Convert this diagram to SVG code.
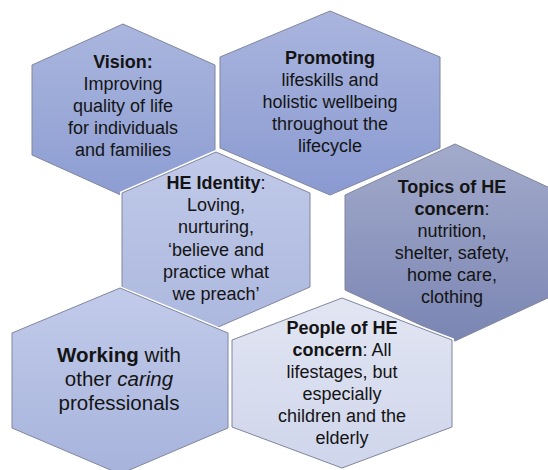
<svg xmlns="http://www.w3.org/2000/svg" width="548" height="470" viewBox="0 0 548 470">
<defs>
<linearGradient id="gVision" x1="0" y1="0" x2="0" y2="1"><stop offset="0" stop-color="#aab6de"/><stop offset="1" stop-color="#8d9dd2"/></linearGradient>
<linearGradient id="gProm" x1="0" y1="0" x2="0" y2="1"><stop offset="0" stop-color="#aab5de"/><stop offset="1" stop-color="#8a9ad1"/></linearGradient>
<linearGradient id="gHE" x1="0" y1="0" x2="0" y2="1"><stop offset="0" stop-color="#c0c9e8"/><stop offset="1" stop-color="#adb8df"/></linearGradient>
<linearGradient id="gTopics" x1="0" y1="0" x2="0" y2="1"><stop offset="0" stop-color="#a3abcb"/><stop offset="1" stop-color="#7a85b3"/></linearGradient>
<linearGradient id="gWork" x1="0" y1="0" x2="0" y2="1"><stop offset="0" stop-color="#c2cbea"/><stop offset="1" stop-color="#a7b3dc"/></linearGradient>
<linearGradient id="gPeople" x1="0" y1="0" x2="0" y2="1"><stop offset="0" stop-color="#e2e6f3"/><stop offset="1" stop-color="#cfd5eb"/></linearGradient>
</defs>
<style>
.halo{fill:none;stroke:#ffffff;stroke-width:4;stroke-linejoin:miter}
.hex{stroke:#80869c;stroke-width:1}
text{font-family:"Liberation Sans",Arial,sans-serif;font-size:18px;fill:#141414;text-anchor:middle}
.b{font-weight:bold}
.big{font-size:20.5px}
</style>
<g id="vision">
<polygon class="halo" points="123,24 215,65 215,155 123,196 32,155 32,65"/>
<polygon class="hex" fill="url(#gVision)" points="123,24 215,65 215,155 123,196 32,155 32,65"/>
<text x="123" y="68" class="b">Vision:</text>
<text x="123" y="90">Improving</text>
<text x="123" y="112">quality of life</text>
<text x="123" y="134">for individuals</text>
<text x="123" y="156">and families</text>
</g>
<g id="promoting">
<polygon class="halo" points="330,11 440,57 440,148 330,195 220,148 220,57"/>
<polygon class="hex" fill="url(#gProm)" points="330,11 440,57 440,148 330,195 220,148 220,57"/>
<text x="330" y="64" class="b">Promoting</text>
<text x="330" y="86">lifeskills and</text>
<text x="330" y="108">holistic wellbeing</text>
<text x="330" y="130">throughout the</text>
<text x="330" y="152">lifecycle</text>
</g>
<g id="he-identity">
<polygon class="halo" points="216,152 310,193 310,287 216,328 122,287 122,193"/>
<polygon class="hex" fill="url(#gHE)" points="216,152 310,193 310,287 216,328 122,287 122,193"/>
<text x="216" y="189"><tspan class="b">HE Identity</tspan>:</text>
<text x="216" y="211">Loving,</text>
<text x="216" y="233">nurturing,</text>
<text x="216" y="256">‘believe and</text>
<text x="216" y="278">practice what</text>
<text x="216" y="300">we preach’</text>
</g>
<g id="topics">
<polygon class="halo" points="455,144 565,195 565,290 455,341 345,290 345,195"/>
<polygon class="hex" fill="url(#gTopics)" points="455,144 565,195 565,290 455,341 345,290 345,195"/>
<text x="452" y="193" class="b">Topics of HE</text>
<text x="452" y="215"><tspan class="b">concern</tspan>:</text>
<text x="452" y="237">nutrition,</text>
<text x="452" y="259">shelter, safety,</text>
<text x="452" y="281">home care,</text>
<text x="452" y="303">clothing</text>
</g>
<g id="working">
<polygon class="halo" points="120,288 228,333 228,428 120,474 12,428 12,333"/>
<polygon class="hex" fill="url(#gWork)" points="120,288 228,333 228,428 120,474 12,428 12,333"/>
<text x="119" y="362" class="big"><tspan class="b">Working</tspan> with</text>
<text x="119" y="386" class="big">other <tspan font-style="italic">caring</tspan></text>
<text x="119" y="410" class="big">professionals</text>
</g>
<g id="people">
<polygon class="halo" points="342,298 452,340 452,427 342,468 232,427 232,340"/>
<polygon class="hex" fill="url(#gPeople)" points="342,298 452,340 452,427 342,468 232,427 232,340"/>
<text x="342" y="334" class="b">People of HE</text>
<text x="342" y="356"><tspan class="b">concern</tspan>: All</text>
<text x="342" y="378">lifestages, but</text>
<text x="342" y="400">especially</text>
<text x="342" y="422">children and the</text>
<text x="342" y="444">elderly</text>
</g>
</svg>
